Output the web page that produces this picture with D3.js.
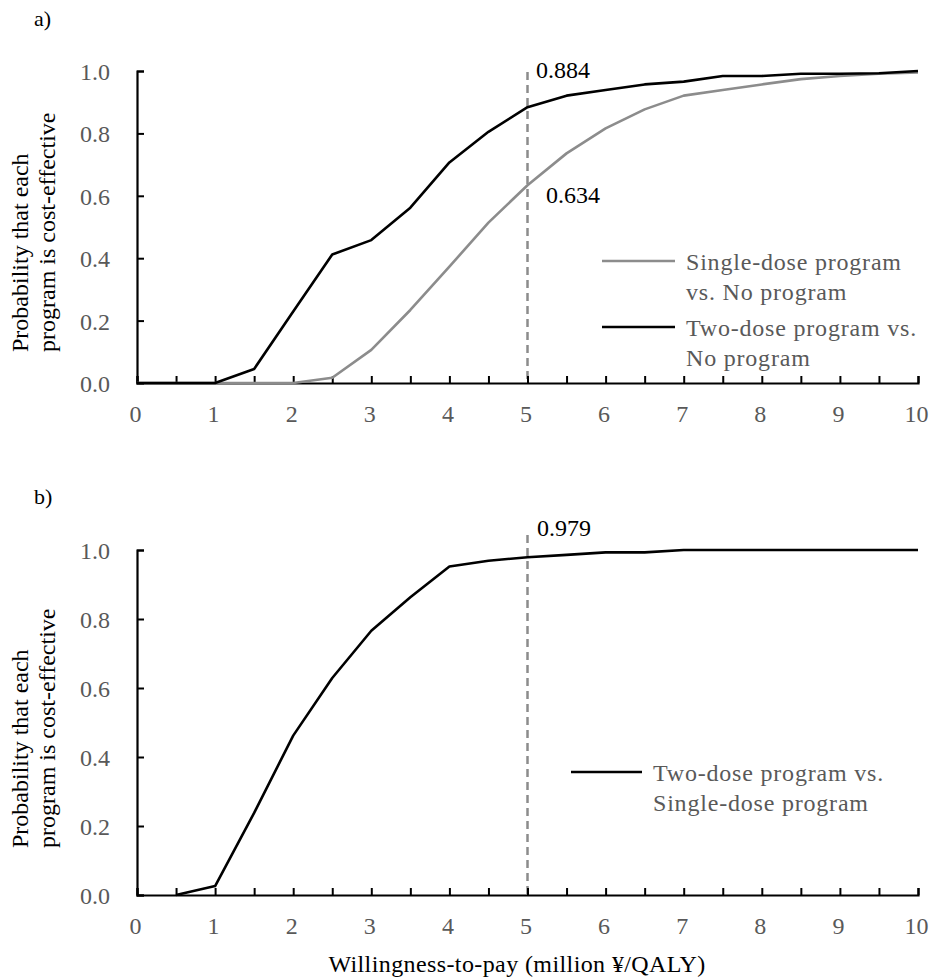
<!DOCTYPE html>
<html>
<head>
<meta charset="utf-8">
<script src="https://cdn.jsdelivr.net/npm/d3@7"></script>
</head>
<body style="margin:0">
<svg id="chart" width="932" height="980"></svg>
<script>
// ---- data ----
const wtp = [0, 0.5, 1, 1.5, 2, 2.5, 3, 3.5, 4, 4.5, 5, 5.5, 6, 6.5, 7, 7.5, 8, 8.5, 9, 9.5, 10];
const singleVsNone = [0, 0, 0, 0, 0, 0.017, 0.106, 0.234, 0.373, 0.514, 0.634, 0.736, 0.816, 0.877, 0.921, 0.939, 0.957, 0.974, 0.984, 0.991, 0.995];
const twoVsNone = [0, 0, 0, 0.045, 0.229, 0.412, 0.458, 0.562, 0.707, 0.805, 0.884, 0.921, 0.939, 0.957, 0.966, 0.984, 0.984, 0.991, 0.991, 0.993, 1.0];
const wtpB = [0.5, 1, 1.5, 2, 2.5, 3, 3.5, 4, 4.5, 5, 5.5, 6, 6.5, 7, 7.5, 8, 8.5, 9, 9.5, 10];
const twoVsSingle = [0, 0.026, 0.238, 0.462, 0.629, 0.766, 0.863, 0.952, 0.969, 0.979, 0.986, 0.993, 0.993, 1.0, 1.0, 1.0, 1.0, 1.0, 1.0, 1.0];
const xTicks = [0, 1, 2, 3, 4, 5, 6, 7, 8, 9, 10];
const xMinorTicks = d3.range(0, 10.01, 0.5);
const yTicks = [0, 0.2, 0.4, 0.6, 0.8, 1.0];
const threshold = 5;
const panelLabels = ["a)", "b)"];
const yTitle = ["Probability that each", "program is cost-effective"];
const xTitle = "Willingness-to-pay (million ¥/QALY)";
const legendA = [
  {lines: ["Single-dose program", "vs. No program"], color: "#8c8c8c"},
  {lines: ["Two-dose program vs.", "No program"], color: "#000"}
];
const legendB = [
  {lines: ["Two-dose program vs.", "Single-dose program"], color: "#000"}
];

const FONT = `"Liberation Serif"`;
const svg = d3.select("#chart");
const x = d3.scaleLinear().domain([0, 10]).range([137, 918]);
const tickGray = "#595959";
const FS = 24;

function addText(parent) {
  return parent.append("text").style("font-family", FONT, "important");
}

function panel(cfg) {
  const y = d3.scaleLinear().domain([0, 1]).range([cfg.y0, cfg.y1]);
  const g = svg.append("g");

  // panel label
  addText(g).attr("x", 34).attr("y", cfg.labelY).attr("font-size", FS - 2).attr("fill", "#000").text(cfg.label);

  // y title (left-aligned lines, rotated)
  yTitle.forEach((t, j) => {
    addText(g).attr("transform", `translate(${28 + j * 27},${cfg.titleStart}) rotate(-90)`)
      .attr("text-anchor", "start").attr("font-size", FS).attr("fill", "#000").text(t);
  });

  // dashed threshold
  g.append("line").attr("x1", x(threshold)).attr("x2", x(threshold))
    .attr("y1", cfg.dashTop).attr("y2", y(0))
    .attr("stroke", "#8c8c8c").attr("stroke-width", 2.5).attr("stroke-dasharray", "8,5");

  // x axis
  const xa = g.append("g").attr("transform", `translate(0,${y(0)})`)
    .call(d3.axisBottom(x).tickValues(xMinorTicks).tickSize(-7).tickFormat(""));
  xa.select(".domain").attr("stroke", "#000").attr("stroke-width", 2.2);
  xa.selectAll(".tick line").attr("stroke", "#000").attr("stroke-width", 2);
  xTicks.forEach(d => {
    addText(g).attr("x", x(d) - 1.5).attr("y", y(0) + 39).attr("text-anchor", "middle")
      .attr("font-size", FS).attr("fill", tickGray).text(d);
  });

  // y axis
  const ya = g.append("g").attr("transform", `translate(${x(0)},0)`)
    .call(d3.axisLeft(y).tickValues(yTicks).tickSize(-7).tickFormat(""));
  ya.select(".domain").attr("stroke", "#000").attr("stroke-width", 2.2);
  ya.selectAll(".tick line").attr("stroke", "#000").attr("stroke-width", 2);
  yTicks.forEach(d => {
    addText(g).attr("x", 110).attr("y", y(d) + 9).attr("text-anchor", "end")
      .attr("font-size", FS).attr("fill", tickGray).text(d.toFixed(1));
  });

  // lines
  const line = d3.line().x(d => x(d[0])).y(d => y(d[1]));
  cfg.series.forEach(s => {
    g.append("path").datum(s.xs.map((v, i) => [v, s.ys[i]]))
      .attr("d", line).attr("fill", "none").attr("stroke", s.color)
      .attr("stroke-width", 2.6).attr("stroke-linejoin", "round");
  });

  // annotations
  cfg.annots.forEach(a => {
    addText(g).attr("x", a.x).attr("y", a.y).attr("font-size", FS).attr("fill", "#000").text(a.text);
  });

  // legend
  cfg.legend.forEach((l, i) => {
    const ly = cfg.legendY[i];
    g.append("line").attr("x1", cfg.legendX).attr("x2", cfg.legendX + cfg.legendLen)
      .attr("y1", ly).attr("y2", ly).attr("stroke", l.color).attr("stroke-width", 2.6);
    l.lines.forEach((t, j) => {
      addText(g).attr("x", cfg.legendX + cfg.legendLen + 11).attr("y", ly + 9 + j * 30)
        .attr("font-size", FS).attr("fill", tickGray).attr("letter-spacing", 0.8).text(t);
    });
  });
  return y;
}

panel({
  y0: 383, y1: 71, label: panelLabels[0], labelY: 26, dashTop: 72, titleStart: 352,
  series: [
    {xs: wtp, ys: singleVsNone, color: "#8c8c8c"},
    {xs: wtp, ys: twoVsNone, color: "#000"}
  ],
  annots: [
    {text: "0.884", x: 536, y: 78},
    {text: "0.634", x: 546, y: 203}
  ],
  legend: legendA, legendX: 602, legendLen: 73, legendY: [261, 327]
});

panel({
  y0: 895, y1: 550, label: panelLabels[1], labelY: 504, dashTop: 535, titleStart: 848,
  series: [
    {xs: wtpB, ys: twoVsSingle, color: "#000"}
  ],
  annots: [
    {text: "0.979", x: 537, y: 536}
  ],
  legend: legendB, legendX: 571, legendLen: 71, legendY: [772]
});

addText(svg).attr("x", 517).attr("y", 972).attr("text-anchor", "middle")
  .attr("font-size", FS).attr("fill", "#000").attr("letter-spacing", 0.4).text(xTitle);
</script>
</body>
</html>
